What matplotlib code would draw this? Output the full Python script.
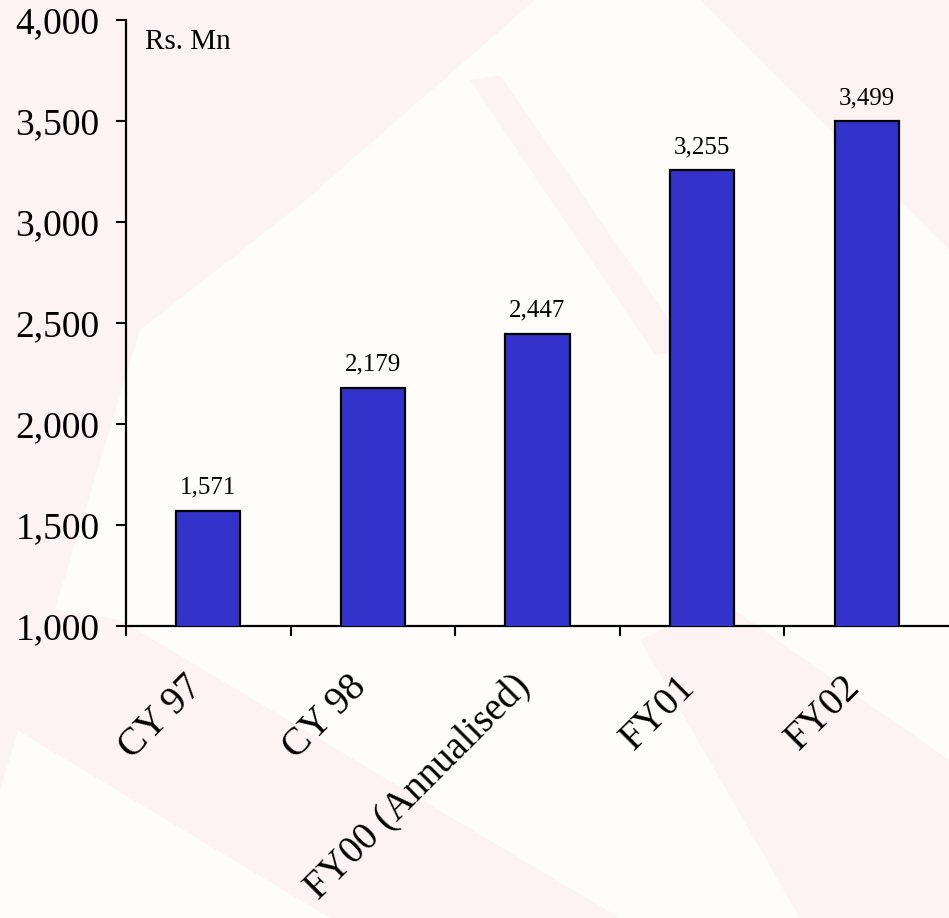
import matplotlib
matplotlib.use("Agg")
import matplotlib.pyplot as plt
from matplotlib.patches import Polygon
from matplotlib.transforms import ScaledTranslation

categories = ["CY 97", "CY 98", "FY00 (Annualised)", "FY01", "FY02"]
values = [1571, 2179, 2447, 3255, 3499]
value_labels = ["1,571", "2,179", "2,447", "3,255", "3,499"]
yticks = [1000, 1500, 2000, 2500, 3000, 3500, 4000]

W, H = 949, 918
plt.rcParams["font.family"] = ["Liberation Serif", "DejaVu Serif"]
fig = plt.figure(figsize=(W / 100, H / 100), dpi=100, facecolor="#FFFDFA")

# faint pink watermark shapes in the background (pixel coords, y down)
pink = "#FDF3F3"
shapes = [
    [(0, 0), (535, 0), (300, 205), (140, 330), (0, 790)],
    [(470, 80), (500, 75), (690, 350), (655, 355)],
    [(0, 600), (120, 620), (620, 918), (330, 918), (0, 720)],
    [(640, 640), (720, 600), (949, 760), (949, 918), (800, 918)],
    [(700, 0), (949, 0), (949, 250)],
]
for pts in shapes:
    fig.patches.append(Polygon([(x / W, 1 - y / H) for x, y in pts], closed=True,
                               transform=fig.transFigure, facecolor=pink,
                               edgecolor="none", zorder=-10))

ax = fig.add_axes([126 / W, 1 - 626 / H, 1 - 126 / W, (626 - 20) / H])
ax.patch.set_alpha(0)

x = range(len(categories))
ax.bar(x, values, width=0.39, bottom=0, color="#3333CC", edgecolor="black",
       linewidth=1.6, zorder=3)
for i, (v, s) in enumerate(zip(values, value_labels)):
    ax.text(i, v + 60, s, ha="center", va="bottom", fontsize=18)

ax.set_xlim(-0.5, 4.5)
ax.set_ylim(1000, 4000)
ax.set_yticks(yticks)
ax.set_yticklabels([f"{t:,}" for t in yticks], fontsize=27)
ax.tick_params(axis="y", direction="out", length=7, width=1.5, pad=12)

# category boundaries carry the tick marks, labels sit under the bar centres
ax.set_xticks([-0.5, 0.5, 1.5, 2.5, 3.5], minor=True)
ax.tick_params(axis="x", which="minor", direction="out", length=7, width=1.5)
ax.set_xticks(list(x))
ax.set_xticklabels(categories, fontsize=28, rotation=45, ha="right",
                   va="center", rotation_mode="anchor")
ax.tick_params(axis="x", which="major", length=0, pad=40)
shift = ScaledTranslation(-0.12, 0, fig.dpi_scale_trans)
for lab in ax.get_xticklabels():
    lab.set_transform(lab.get_transform() + shift)

for side in ["top", "right"]:
    ax.spines[side].set_visible(False)
for side in ["left", "bottom"]:
    ax.spines[side].set_linewidth(1.6)

ax.text((145 - 126) / 825, 0.985, "Rs. Mn", transform=ax.transAxes,
        ha="left", va="top", fontsize=21)

fig.savefig("out.png", dpi=100, facecolor=fig.get_facecolor())
